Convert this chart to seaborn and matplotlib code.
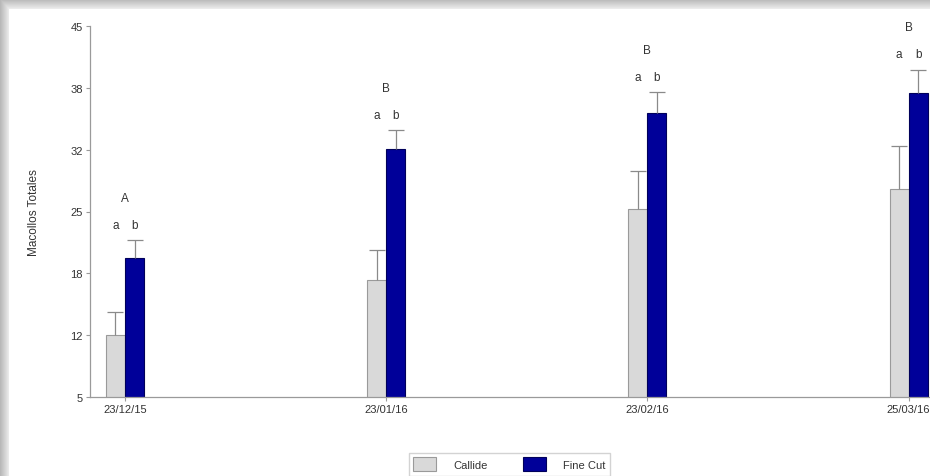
#!/usr/bin/env python3

# Macollos totales por fecha y variedad

import matplotlib
matplotlib.use("Agg")
import matplotlib.pyplot as plt
import seaborn as sns
import pandas as pd
import numpy as npy

fechas = ["23/12/15", "23/01/16", "23/02/16", "25/03/16"]
variedades = ["Callide", "Fine Cut"]
callide = [11.7, 17.6, 25.3, 27.4]
callide_err = [2.5, 3.2, 4.1, 4.7]
fine_cut = [20.0, 31.7, 35.6, 37.8]
fine_cut_err = [1.9, 2.1, 2.3, 2.5]
letras_var = ["a", "b"]
letras_fecha = ["A", "B", "B", "B"]
yticks_lab = ["5", "12", "18", "25", "32", "38", "45"]

colores = {"Callide": "#d9d9d9", "Fine Cut": "#000099"}
bordes = {"Callide": "#9a9a9a", "Fine Cut": "#00005a"}
gris_txt = "#333333"

sns.set_style("white")
plt.rcParams["font.family"] = ["Liberation Sans", "DejaVu Sans"]


def main():
    df = pd.DataFrame({
        "Fecha": fechas * 2,
        "Variedad": ["Callide"] * 4 + ["Fine Cut"] * 4,
        "Macollos": callide + fine_cut,
        "Err": callide_err + fine_cut_err,
    })

    fig = plt.figure(figsize=(9.3, 4.77), dpi=100)

    # marco con sombra de la captura
    bg = fig.add_axes([0, 0, 1, 1], zorder=-10)
    h, w = 477, 930
    img = npy.ones((h, w))
    yy = npy.arange(h)[:, None]
    xx = npy.arange(w)[None, :]
    top = npy.clip(yy / 10.0, 0, 1)
    left = npy.clip(xx / 9.0, 0, 1)
    sombra = npy.minimum(0.72 + 0.22 * top, 0.72 + 0.22 * left)
    img = npy.where((yy < 10) | (xx < 9), sombra, img)
    bg.imshow(img, cmap="gray", vmin=0, vmax=1, aspect="auto", interpolation="bilinear")
    bg.axis("off")

    ax = fig.add_axes([90 / 930, 79 / 477, 897 / 930, 371 / 477])
    sns.barplot(
        data=df, x="Fecha", y="Macollos", hue="Variedad", order=fechas,
        hue_order=variedades, palette=colores, width=0.146,
        errorbar=None, legend=False, ax=ax, linewidth=0.8, saturation=1,
    )
    ax.set_ylim(5, 45)
    ax.set_xlim(-0.134, 3.3)

    # bordes y barras de error (solo hacia arriba)
    for i, var in enumerate(variedades):
        cont = ax.containers[i]
        errs = df[df["Variedad"] == var]["Err"].tolist()
        for p, e in zip(cont.patches, errs):
            p.set_edgecolor(bordes[var])
            xc = p.get_x() + p.get_width() / 2
            yt = p.get_height()
            half = p.get_width() * 0.42
            ax.vlines(xc, yt, yt + e, color="#8a8a8a", lw=0.9, zorder=3)
            ax.hlines(yt + e, xc - half, xc + half, color="#8a8a8a", lw=0.9, zorder=3)

    # letras de significancia
    for j in range(len(fechas)):
        pc = ax.containers[0].patches[j]
        pf = ax.containers[1].patches[j]
        tope = max(callide[j] + callide_err[j], fine_cut[j] + fine_cut_err[j])
        for p, l in zip([pc, pf], letras_var):
            ax.text(p.get_x() + p.get_width() / 2, tope + 1.0, l, ha="center",
                    va="bottom", fontsize=8.5, color=gris_txt)
        ax.text(j, tope + 3.9, letras_fecha[j], ha="center", va="bottom",
                fontsize=8.5, color=gris_txt)

    ax.set_yticks(npy.linspace(5, 45, 7))
    ax.set_yticklabels(yticks_lab)
    ax.set_xticks(range(len(fechas)))
    ax.set_xticklabels(fechas)
    ax.tick_params(axis="both", labelsize=8, colors="#9a9a9a", labelcolor=gris_txt,
                   length=3, width=0.8, direction="out", pad=2)
    ax.tick_params(axis="both", left=True, bottom=True)
    for s in ["top", "right"]:
        ax.spines[s].set_visible(False)
    for s in ["left", "bottom"]:
        ax.spines[s].set_color("#9a9a9a")
        ax.spines[s].set_linewidth(0.9)
    ax.set_xlabel("")
    ax.set_ylabel("Macollos Totales", fontsize=8.5, color=gris_txt, labelpad=22)

    handles = [
        plt.Rectangle((0, 0), 1, 1, facecolor=colores[v], edgecolor=bordes[v], lw=0.8)
        for v in variedades
    ]
    fig.legend(
        handles, variedades, loc="upper center", bbox_to_anchor=(0.548, 1 - 448 / 477),
        ncol=2, fontsize=8, frameon=True, fancybox=False, edgecolor="#c8c8c8",
        handlelength=2.0, handleheight=1.6, columnspacing=3.2, handletextpad=1.6,
        borderpad=0.4, labelcolor=gris_txt,
    )

    fig.savefig("out.png", dpi=100)


if __name__ == "__main__":
    main()
